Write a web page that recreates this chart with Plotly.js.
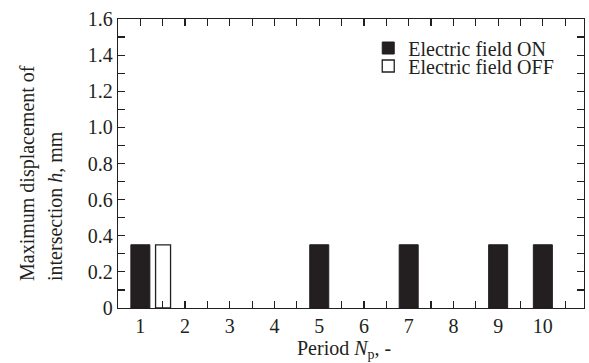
<!DOCTYPE html>
<html>
<head>
<meta charset="utf-8">
<script src="https://cdn.plot.ly/plotly-3.0.1.min.js"></script>
<style>
  html, body { margin: 0; padding: 0; background: #fff; }
  #chart { width: 589px; height: 363px; }
</style>
</head>
<body>
<div id="chart"></div>
<script>
// ---- data ----
var periodsOn = [1, 5, 7, 9, 10];
var displacementOn = [0.35, 0.35, 0.35, 0.35, 0.35];
var periodsOff = [1];
var displacementOff = [0.35];
var seriesNames = ['Electric field ON', 'Electric field OFF'];

var xTickVals = [1, 1.5, 2, 2.5, 3, 3.5, 4, 4.5, 5, 5.5, 6, 6.5, 7, 7.5, 8, 8.5, 9, 9.5, 10, 10.5];
var xTickText = ['1', '', '2', '', '3', '', '4', '', '5', '', '6', '', '7', '', '8', '', '9', '', '10', ''];
var yTickVals = [0, 0.1, 0.2, 0.3, 0.4, 0.5, 0.6, 0.7, 0.8, 0.9, 1.0, 1.1, 1.2, 1.3, 1.4, 1.5, 1.6];
var yTickText = ['0', '', '0.2', '', '0.4', '', '0.6', '', '0.8', '', '1.0', '', '1.2', '', '1.4', '', '1.6'];

var inkColor = '#231f20';
function serifFont(sz) { return { family: 'Liberation Serif', size: sz || 20, color: inkColor }; }

var chartTraces = [
  {
    type: 'bar', name: seriesNames[0], x: periodsOn, y: displacementOn,
    width: 0.425, marker: { color: inkColor, line: { color: inkColor, width: 1 } },
    legend: 'legend'
  },
  {
    type: 'bar', name: seriesNames[1], x: periodsOff, y: displacementOff,
    width: 0.335, offset: 0.34,
    marker: { color: '#ffffff', line: { color: inkColor, width: 1.3 } },
    legend: 'legend2'
  }
];

function axisBase() {
  return {
    showgrid: false, zeroline: false, showline: true, linecolor: inkColor, linewidth: 1.3,
    mirror: 'ticks', ticks: 'inside', ticklen: 7, tickwidth: 1.2, tickcolor: inkColor,
    tickfont: serifFont(20), tickmode: 'array'
  };
}

var xa = axisBase(); xa.range = [0.5, 10.92]; xa.tickvals = xTickVals; xa.ticktext = xTickText;
var ya = axisBase(); ya.range = [0, 1.6]; ya.tickvals = yTickVals; ya.ticktext = yTickText;

var chartLayout = {
  width: 589, height: 363,
  margin: { l: 118, r: 5, t: 19, b: 55 },
  paper_bgcolor: '#fff', plot_bgcolor: '#fff',
  font: serifFont(20),
  barmode: 'overlay',
  xaxis: xa,
  yaxis: ya,
  legend: {
    x: 0.537, xanchor: 'left', y: (308 - 48) / 289, yanchor: 'middle',
    bgcolor: 'rgba(0,0,0,0)', font: serifFont(20), itemwidth: 30
  },
  legend2: {
    x: 0.537, xanchor: 'left', y: (308 - 66) / 289, yanchor: 'middle',
    bgcolor: 'rgba(0,0,0,0)', font: serifFont(20), itemwidth: 30
  },
  showlegend: true,
  annotations: [
    {
      text: 'Maximum displacement of', textangle: -90,
      xref: 'paper', yref: 'paper', x: (27 - 118) / 466, y: (308 - 283) / 289,
      xanchor: 'center', yanchor: 'bottom', showarrow: false, font: serifFont(20)
    },
    {
      text: 'intersection <i>h</i>, mm', textangle: -90,
      xref: 'paper', yref: 'paper', x: (55 - 118) / 466, y: (308 - 283) / 289,
      xanchor: 'center', yanchor: 'bottom', showarrow: false, font: serifFont(20)
    },
    {
      text: 'Period <i>N</i><sub>p</sub>, -',
      xref: 'paper', yref: 'paper', x: (344 - 118) / 466, y: (308 - 349) / 289,
      xanchor: 'center', yanchor: 'middle', showarrow: false, font: serifFont(20)
    }
  ]
};

Plotly.newPlot('chart', chartTraces, chartLayout, { staticPlot: true, displayModeBar: false });
</script>
</body>
</html>
